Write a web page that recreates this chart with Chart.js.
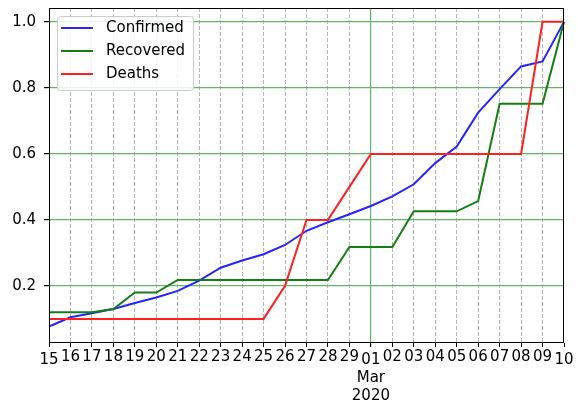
<!DOCTYPE html>
<html>
<head>
<meta charset="utf-8">
<script src="https://cdn.jsdelivr.net/npm/chart.js@4"></script>
<style>
  html, body { margin: 0; padding: 0; background: #fff; }
  canvas { display: block; }
</style>
</head>
<body>
<canvas id="chart" width="578" height="402"></canvas>
<script>
// days from 15 Feb to 10 Mar 2020
const dayLabels = ["15", "16", "17", "18", "19", "20", "21", "22", "23", "24", "25", "26", "27", "28", "29",
  "01", "02", "03", "04", "05", "06", "07", "08", "09", "10"];
const monthLabel = ["Mar", "2020"];
const majorIdx = [0, 15, 24];
const yTicks = [0.2, 0.4, 0.6, 0.8, 1.0];

const confirmed = [0.077, 0.105, 0.117, 0.130, 0.148, 0.165, 0.185, 0.216, 0.255, 0.277, 0.296, 0.324, 0.367,
  0.393, 0.417, 0.442, 0.471, 0.508, 0.572, 0.622, 0.725, 0.796, 0.865, 0.880, 1.0];
const recovered = [0.120, 0.120, 0.120, 0.130, 0.180, 0.180, 0.218, 0.218, 0.218, 0.218, 0.218, 0.218, 0.218,
  0.218, 0.318, 0.318, 0.318, 0.426, 0.426, 0.426, 0.457, 0.752, 0.752, 0.752, 1.0];
const deaths = [0.1, 0.1, 0.1, 0.1, 0.1, 0.1, 0.1, 0.1, 0.1, 0.1, 0.1, 0.2, 0.4,
  0.4, 0.5, 0.6, 0.6, 0.6, 0.6, 0.6, 0.6, 0.6, 0.6, 1.0, 1.0];

const FONT = "15px 'DejaVu Sans'";
const gridGreen = "rgb(96,184,96)";

const series = [
  { label: "Confirmed", data: confirmed, color: "#2424ff", order: 2 },
  { label: "Recovered", data: recovered, color: "#137f13", order: 1 },
  { label: "Deaths", data: deaths, color: "#ff2020", order: 0 },
];

// x tick labels, frame and legend drawn on top (matplotlib look)
const overlay = {
  id: "overlay",
  afterDraw(chart) {
    const { ctx, chartArea: a, scales } = chart;
    const x = scales.x;
    ctx.save();
    ctx.font = FONT;
    ctx.fillStyle = "#000";
    ctx.textAlign = "center";
    ctx.textBaseline = "middle";
    dayLabels.forEach((lab, i) => {
      const px = x.getPixelForValue(i);
      const major = majorIdx.includes(i);
      ctx.fillText(lab, px, major ? 360 : 357);
      if (i === 15) {
        monthLabel.forEach((m, k) => ctx.fillText(m, px, 378 + k * 18));
      }
    });

    // frame
    ctx.strokeStyle = "#000";
    ctx.lineWidth = 1;
    ctx.strokeRect(a.left + 0.5, a.top + 0.5, a.right - a.left - 1, a.bottom - a.top - 1);

    // legend
    const bx = 57, by = 16, bw = 136, bh = 74;
    ctx.beginPath();
    ctx.roundRect(bx + 0.5, by + 0.5, bw, bh, 3);
    ctx.fillStyle = "rgba(255,255,255,0.85)";
    ctx.fill();
    ctx.strokeStyle = "#cccccc";
    ctx.stroke();
    ctx.textAlign = "left";
    series.forEach((s, k) => {
      const ly = 28 + k * 23;
      ctx.strokeStyle = s.color;
      ctx.lineWidth = 2;
      ctx.beginPath();
      ctx.moveTo(61, ly);
      ctx.lineTo(93, ly);
      ctx.stroke();
      ctx.fillStyle = "#000";
      ctx.fillText(s.label, 106, ly);
    });
    ctx.restore();
  }
};

new Chart(document.getElementById("chart"), {
  type: "line",
  data: {
    labels: dayLabels,
    datasets: series.map(s => ({
      label: s.label,
      data: s.data,
      borderColor: s.color,
      backgroundColor: s.color,
      borderWidth: 2,
      pointRadius: 0,
      tension: 0,
      order: s.order,
    })),
  },
  options: {
    responsive: false,
    animation: false,
    events: [],
    layout: { padding: { left: 0, right: 14, top: 8, bottom: 0 } },
    plugins: {
      legend: { display: false },
      tooltip: { enabled: false },
    },
    scales: {
      x: {
        type: "category",
        offset: false,
        afterFit: s => { s.height = 59; s.paddingLeft = 0; s.paddingRight = 0; },
        ticks: { display: false, autoSkip: false },
        border: {
          display: false,
          dash: c => (c.index === 0 || c.index === 15 || c.index === 24) ? [] : [4, 2],
        },
        grid: {
          offset: false,
          lineWidth: c => c.index === 15 ? 1.2 : 1,
          color: c => c.index === 15 ? gridGreen : (c.index === 0 || c.index === 24 ? "rgba(0,0,0,0)" : "#b5b5b5"),
          tickColor: "#000",
          tickLength: 4,
          drawTicks: true,
        },
      },
      y: {
        min: 0.027,
        max: 1.042,
        afterFit: s => { s.width = 49; s.paddingTop = 0; s.paddingBottom = 0; },
        afterBuildTicks: s => { s.ticks = yTicks.map(v => ({ value: v })); },
        ticks: {
          font: { family: "'DejaVu Sans'", size: 15 },
          color: "#000",
          padding: 8,
          callback: v => v.toFixed(1),
        },
        border: { display: false },
        grid: {
          color: gridGreen,
          lineWidth: 1.2,
          tickColor: "#000",
          tickLength: 5,
          drawTicks: true,
        },
      },
    },
  },
  plugins: [overlay],
});
</script>
</body>
</html>
